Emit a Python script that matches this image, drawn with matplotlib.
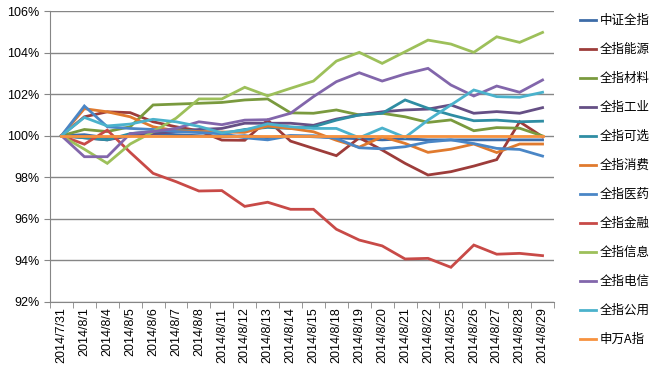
import matplotlib
matplotlib.use("Agg")
import matplotlib.pyplot as plt
from matplotlib.ticker import FixedLocator, FuncFormatter

plt.rcParams['font.family'] = ['Liberation Sans', 'Noto Sans CJK SC', 'DejaVu Sans']

dates = ["2014/7/31", "2014/8/1", "2014/8/4", "2014/8/5", "2014/8/6", "2014/8/7",
         "2014/8/8", "2014/8/11", "2014/8/12", "2014/8/13", "2014/8/14", "2014/8/15",
         "2014/8/18", "2014/8/19", "2014/8/20", "2014/8/21", "2014/8/22", "2014/8/25",
         "2014/8/26", "2014/8/27", "2014/8/28", "2014/8/29"]

zz_all = [100, 100.05, 99.9, 100.0, 100.1, 100.05, 100.0, 99.95, 100.0, 99.9, 100.0,
          99.95, 99.9, 99.85, 99.8, 99.85, 99.8, 99.8, 99.8, 99.8, 99.8, 99.8]
energy = [100, 100.91, 101.15, 101.11, 100.67, 100.43, 100.24, 99.79, 99.78, 100.75, 99.74,
          99.39, 99.04, 99.9, 99.31, 98.67, 98.11, 98.27, 98.54, 98.85, 100.67, 99.95]
materials = [100, 100.3, 100.2, 100.43, 101.48, 101.52, 101.56, 101.6, 101.72, 101.77, 101.1,
             101.08, 101.24, 101.0, 101.08, 100.91, 100.64, 100.76, 100.24, 100.39, 100.36, 99.99]
industry = [100, 99.9, 99.8, 100.0, 100.1, 100.2, 100.3, 100.35, 100.6, 100.6, 100.6,
            100.5, 100.8, 101.0, 101.15, 101.24, 101.28, 101.48, 101.08, 101.16, 101.08, 101.35]
discretionary = [100, 99.9, 99.8, 100.1, 100.2, 100.3, 100.2, 100.1, 100.3, 100.4, 100.35,
                 100.43, 100.75, 101.0, 101.08, 101.72, 101.32, 101.0, 100.72, 100.75, 100.67, 100.7]
staples = [100, 101.3, 101.15, 100.91, 100.43, 100.24, 100.2, 100.18, 100.16, 100.47, 100.35,
           100.19, 99.78, 99.45, 99.95, 99.63, 99.2, 99.35, 99.6, 99.19, 99.6, 99.6]
pharma = [100, 101.43, 100.43, 100.35, 100.3, 100.2, 100.15, 100.1, 99.9, 99.8, 100.0,
          100.0, 99.87, 99.42, 99.37, 99.47, 99.7, 99.8, 99.62, 99.39, 99.34, 99.02]
finance = [100, 99.59, 100.27, 99.2, 98.19, 97.79, 97.34, 97.36, 96.6, 96.8, 96.46,
           96.46, 95.5, 94.98, 94.7, 94.07, 94.1, 93.67, 94.74, 94.3, 94.34, 94.23]
info_tech = [100, 99.35, 98.67, 99.6, 100.19, 100.84, 101.77, 101.77, 102.33, 101.92, 102.28,
             102.63, 103.59, 104.01, 103.48, 104.04, 104.6, 104.41, 104.01, 104.76, 104.49, 104.97]
telecom = [100, 98.99, 98.99, 100.1, 100.2, 100.35, 100.67, 100.53, 100.75, 100.77, 101.08,
           101.88, 102.6, 103.03, 102.63, 102.97, 103.24, 102.44, 101.91, 102.39, 102.09, 102.68]
utilities = [100, 100.88, 100.47, 100.56, 100.79, 100.67, 100.45, 100.14, 100.27, 100.57, 100.43,
             100.35, 100.35, 99.9, 100.37, 99.92, 100.75, 101.48, 102.2, 101.88, 101.85, 102.09]
sw_a = [100] * 22

series = [
    ("中证全指", zz_all, '#3D6CA8'),
    ("全指能源", energy, '#9D3C3A'),
    ("全指材料", materials, '#7A9A3E'),
    ("全指工业", industry, '#654F85'),
    ("全指可选", discretionary, '#2F8DA3'),
    ("全指消费", staples, '#E07A2E'),
    ("全指医药", pharma, '#4A86C6'),
    ("全指金融", finance, '#C84A47'),
    ("全指信息", info_tech, '#9DC05A'),
    ("全指电信", telecom, '#8266AB'),
    ("全指公用", utilities, '#4BB2CC'),
    ("申万A指", sw_a, '#F7923F'),
]

fig = plt.figure(figsize=(6.5, 3.89), dpi=100)
ax = fig.add_axes([50 / 650, 1 - 302 / 389, 504 / 650, 291 / 389])

x = list(range(len(dates)))
for name, vals, color in series:
    ax.plot(x, vals, color=color, lw=2.0, label=name, solid_joinstyle='miter')

ax.set_xlim(-0.5, len(dates) - 0.5)
ax.set_ylim(92, 106)
ax.set_yticks(range(92, 107, 2))
ax.yaxis.set_major_formatter(FuncFormatter(lambda v, p: f"{v:.0f}%"))
ax.grid(axis='y', color='#868686', lw=1.0)
ax.set_axisbelow(True)

ax.set_xticks(x)
ax.set_xticklabels(dates, rotation=90, fontsize=9)
ax.xaxis.set_minor_locator(FixedLocator([i - 0.5 for i in range(len(dates) + 1)]))
ax.tick_params(axis='x', which='major', length=0, pad=4)
ax.tick_params(axis='x', which='minor', length=4, color='#868686')
ax.tick_params(axis='y', length=4, color='#868686', labelsize=9)

for s in ['top', 'right']:
    ax.spines[s].set_visible(False)
for s in ['left', 'bottom']:
    ax.spines[s].set_color('#868686')

leg = fig.legend(loc='upper left', bbox_to_anchor=(580 / 650, 1 - 14 / 389),
                 frameon=False, labelspacing=1.28, handlelength=1.3,
                 handletextpad=0.25, borderaxespad=0, borderpad=0,
                 prop={'family': ['Noto Sans CJK SC', 'DejaVu Sans'], 'size': 9})

fig.savefig("out.png", dpi=100)
